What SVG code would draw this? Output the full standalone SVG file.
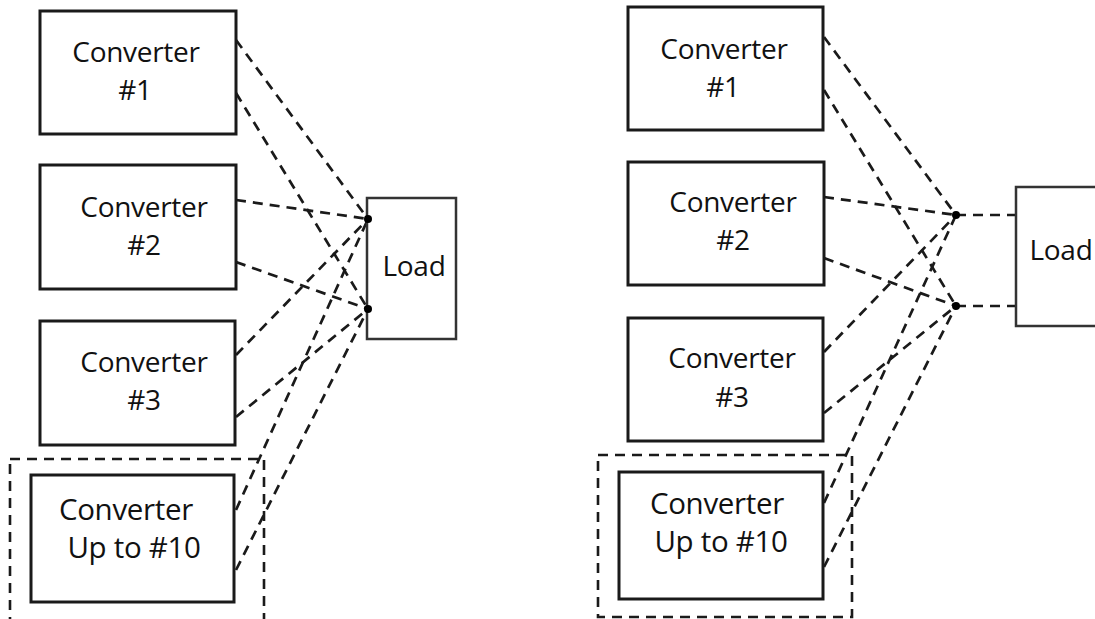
<svg xmlns="http://www.w3.org/2000/svg" width="1095" height="619" viewBox="0 0 1095 619">
<style>
.box{fill:#fff;stroke:#1a1a1a;stroke-width:3}
.load{fill:#fff;stroke:#333;stroke-width:2.5}
.grp{fill:none;stroke:#1a1a1a;stroke-width:2.6;stroke-dasharray:10 7}
.wire{fill:none;stroke:#1a1a1a;stroke-width:2.7;stroke-dasharray:10 7}
.dot{fill:#000}
text{font-family:"Open Sans","Liberation Sans",sans-serif;font-size:28px;letter-spacing:-0.3px;fill:#111;text-anchor:middle}
.big{font-size:29.5px}
</style>
<rect width="1095" height="619" fill="#fff"/>
<g id="left-group"><rect class="grp" x="10" y="459" width="254" height="170"/></g>
<g id="right-group"><rect class="grp" x="598" y="455" width="254" height="162"/></g>
<g id="connectors">
<line class="wire" x1="236" y1="40" x2="368" y2="219"/>
<line class="wire" x1="236" y1="93" x2="368" y2="309"/>
<line class="wire" x1="236" y1="200" x2="368" y2="219"/>
<line class="wire" x1="236" y1="262" x2="368" y2="309"/>
<line class="wire" x1="236" y1="355" x2="368" y2="219"/>
<line class="wire" x1="236" y1="417" x2="368" y2="309"/>
<line class="wire" x1="236" y1="510" x2="368" y2="219"/>
<line class="wire" x1="236" y1="570" x2="368" y2="309"/>
<line class="wire" x1="824" y1="37" x2="956" y2="215"/>
<line class="wire" x1="824" y1="90" x2="956" y2="306"/>
<line class="wire" x1="824" y1="197" x2="956" y2="215"/>
<line class="wire" x1="824" y1="258" x2="956" y2="306"/>
<line class="wire" x1="824" y1="352" x2="956" y2="215"/>
<line class="wire" x1="824" y1="413" x2="956" y2="306"/>
<line class="wire" x1="824" y1="503" x2="956" y2="215"/>
<line class="wire" x1="824" y1="567" x2="956" y2="306"/>
<line class="wire" x1="956" y1="215" x2="1016" y2="215"/>
<line class="wire" x1="956" y1="306" x2="1016" y2="306"/>
</g>
<g id="L-conv1"><rect class="box" x="40" y="11" width="196" height="123"/><text x="136" y="62">Converter</text><text x="135" y="100">#1</text></g>
<g id="L-conv2"><rect class="box" x="40" y="165" width="196" height="124"/><text x="144" y="217">Converter</text><text x="144" y="255">#2</text></g>
<g id="L-conv3"><rect class="box" x="40" y="321" width="195" height="124"/><text x="144" y="372">Converter</text><text x="144" y="410">#3</text></g>
<g id="L-conv10"><rect class="box" x="31" y="475" width="203" height="127"/><text class="big" x="126" y="520">Converter</text><text class="big" x="134" y="558">Up to #10</text></g>
<g id="L-load"><rect class="load" x="367" y="198" width="89" height="141"/><text x="414" y="276">Load</text><circle class="dot" cx="368" cy="219" r="4"/><circle class="dot" cx="368" cy="309" r="4"/></g>
<g id="R-conv1"><rect class="box" x="628" y="7" width="195" height="123"/><text x="724" y="59">Converter</text><text x="723" y="97">#1</text></g>
<g id="R-conv2"><rect class="box" x="628" y="162" width="196" height="123"/><text x="733" y="212">Converter</text><text x="733" y="250">#2</text></g>
<g id="R-conv3"><rect class="box" x="628" y="318" width="195" height="123"/><text x="732" y="368">Converter</text><text x="732" y="407">#3</text></g>
<g id="R-conv10"><rect class="box" x="619" y="472" width="204" height="127"/><text class="big" x="717" y="514">Converter</text><text class="big" x="721" y="552">Up to #10</text></g>
<g id="R-load"><rect class="load" x="1016" y="187" width="100" height="139"/><text x="1061" y="260">Load</text><circle class="dot" cx="956" cy="215" r="4"/><circle class="dot" cx="956" cy="306" r="4"/></g>
</svg>
